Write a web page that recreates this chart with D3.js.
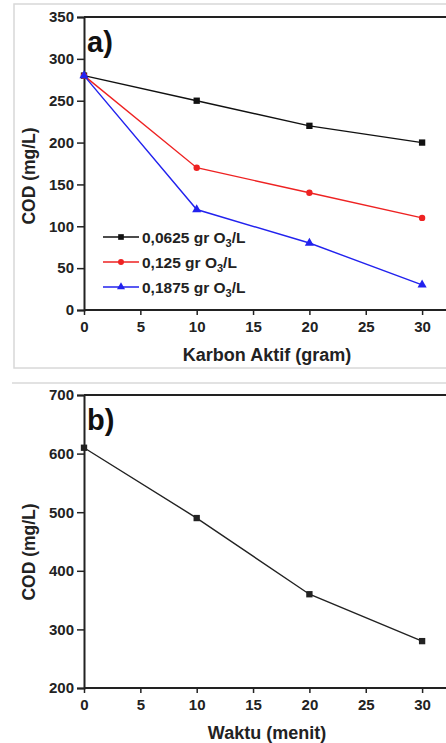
<!DOCTYPE html>
<html>
<head>
<meta charset="utf-8">
<script src="https://cdn.jsdelivr.net/npm/d3@7"></script>
<style>
  body { margin: 0; background: #fff; overflow: hidden; }
  svg { display: block; font-family: "Liberation Sans", Arial, sans-serif; }
</style>
</head>
<body>
<div id="chart"></div>
<script>
// panel a data
const karbon = [0, 10, 20, 30];
const seriesNames = ["0,0625 gr O", "0,125 gr O", "0,1875 gr O"];
const seriesA1 = [280, 250, 220, 200];
const seriesA2 = [280, 170, 140, 110];
const seriesA3 = [280, 120, 80, 30];
const seriesColors = ["#111111", "#ee2222", "#2222ee"];
const seriesShapes = [d3.symbolSquare, d3.symbolCircle, d3.symbolTriangle];
const yTicksA = [0, 50, 100, 150, 200, 250, 300, 350];
const xTicks = [0, 5, 10, 15, 20, 25, 30];

// panel b data
const waktu = [0, 10, 20, 30];
const codB = [610, 490, 360, 280];
const yTicksB = [200, 300, 400, 500, 600, 700];

const W = 446, H = 743;
const svg = d3.select("#chart").append("svg")
  .attr("width", W).attr("height", H);

// light panel frames
svg.append("rect")
  .attr("x", 14).attr("y", 4)
  .attr("width", 460).attr("height", 364)
  .attr("fill", "none")
  .attr("stroke", "#d8d8d8")
  .attr("stroke-width", 1.5);
svg.append("line")
  .attr("x1", 12).attr("x2", W)
  .attr("y1", 383).attr("y2", 383)
  .attr("stroke", "#d8d8d8")
  .attr("stroke-width", 1.5);

function drawPanel(opt) {
  const x = d3.scaleLinear().domain([0, 33]).range([84, 84 + 33 * 11.27]);
  const y = d3.scaleLinear().domain(opt.yDomain).range([opt.bottom, opt.top]);
  const g = svg.append("g");

  // top frame line
  g.append("line")
    .attr("x1", x(0)).attr("x2", W + 20)
    .attr("y1", opt.top).attr("y2", opt.top)
    .attr("stroke", "#222").attr("stroke-width", 2);

  // y axis
  const ya = g.append("g")
    .attr("transform", `translate(${x(0)},0)`)
    .call(d3.axisLeft(y).tickValues(opt.yTicks).tickSize(7).tickPadding(3));
  // x axis
  const xa = g.append("g")
    .attr("transform", `translate(0,${opt.bottom})`)
    .call(d3.axisBottom(x).tickValues(xTicks).tickSize(5).tickPadding(6));
  [ya, xa].forEach(a => {
    a.select(".domain").attr("stroke", "#222").attr("stroke-width", 2);
    a.selectAll(".tick line").attr("stroke", "#222").attr("stroke-width", 1.5);
    a.selectAll(".tick text")
      .attr("fill", "#222")
      .style("font-size", "15px")
      .style("font-weight", "bold");
  });
  // extend x domain line off canvas
  xa.select(".domain").attr("d", `M${x(0)},0H${W + 20}`);

  // panel letter
  g.append("text")
    .attr("x", x(0) + 3).attr("y", opt.top + 35)
    .style("font-size", "29px").style("font-weight", "bold")
    .attr("fill", "#111")
    .text(opt.letter);

  // axis titles
  g.append("text")
    .attr("x", 267).attr("y", opt.bottom + 51)
    .attr("text-anchor", "middle")
    .style("font-size", "18px").style("font-weight", "bold")
    .attr("fill", "#222")
    .text(opt.xTitle);
  g.append("text")
    .attr("transform", `translate(35,${opt.yTitleY}) rotate(-90)`)
    .attr("text-anchor", "middle")
    .style("font-size", "17.5px").style("font-weight", "bold")
    .attr("fill", "#222")
    .text("COD (mg/L)");

  const line = d3.line().x(d => x(d[0])).y(d => y(d[1]));
  opt.series.forEach((s, i) => {
    const pts = opt.xs.map((v, j) => [v, s.values[j]]);
    g.append("path")
      .datum(pts)
      .attr("fill", "none")
      .attr("stroke", s.color)
      .attr("stroke-width", 1.4)
      .attr("d", line);
    g.selectAll(null)
      .data(pts)
      .join("path")
      .attr("transform", d => `translate(${x(d[0])},${y(d[1])})`)
      .attr("d", d3.symbol().type(s.shape).size(s.size))
      .attr("fill", s.color);
  });
  return { x, y, g };
}

const pa = drawPanel({
  top: 17, bottom: 310, yDomain: [0, 350], yTicks: yTicksA,
  letter: "a)", xTitle: "Karbon Aktif (gram)", yTitleY: 176,
  xs: karbon,
  series: [
    { values: seriesA1, color: seriesColors[0], shape: seriesShapes[0], size: 40 },
    { values: seriesA2, color: seriesColors[1], shape: seriesShapes[1], size: 32 },
    { values: seriesA3, color: seriesColors[2], shape: seriesShapes[2], size: 36 }
  ]
});

// legend
const legend = pa.g.append("g");
seriesNames.forEach((name, i) => {
  const ly = 237 + i * 25;
  legend.append("line")
    .attr("x1", 103).attr("x2", 139)
    .attr("y1", ly).attr("y2", ly)
    .attr("stroke", seriesColors[i]).attr("stroke-width", 1.4);
  legend.append("path")
    .attr("transform", `translate(121,${ly})`)
    .attr("d", d3.symbol().type(seriesShapes[i]).size(i === 0 ? 32 : 28))
    .attr("fill", seriesColors[i]);
  const t = legend.append("text")
    .attr("x", 142).attr("y", ly + 5.5)
    .style("font-size", "15.5px").style("font-weight", "bold")
    .attr("fill", "#222");
  t.append("tspan").text(name);
  t.append("tspan").attr("dy", 4).style("font-size", "11px").text("3");
  t.append("tspan").attr("dy", -4).text("/L");
});

drawPanel({
  top: 395, bottom: 688, yDomain: [200, 700], yTicks: yTicksB,
  letter: "b)", xTitle: "Waktu (menit)", yTitleY: 552,
  xs: waktu,
  series: [
    { values: codB, color: "#222", shape: d3.symbolSquare, size: 40 }
  ]
});
</script>
</body>
</html>
